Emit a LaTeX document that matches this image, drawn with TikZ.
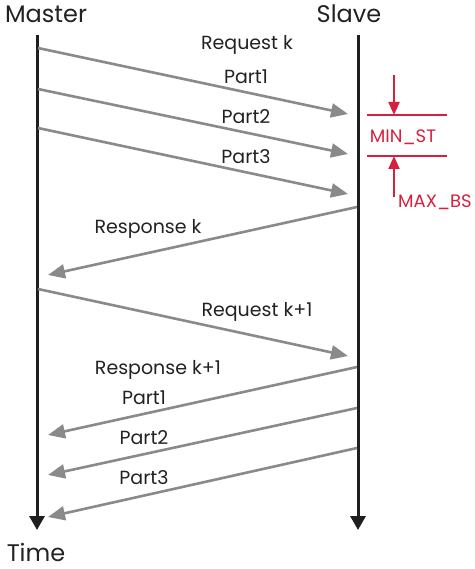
\documentclass[tikz,border=0pt]{standalone}
\usepackage{fontspec}
\setmainfont{Poppins}
\usetikzlibrary{arrows.meta}
\definecolor{msggray}{HTML}{8A8A8A}
\definecolor{markred}{HTML}{D6203F}
\definecolor{txt}{HTML}{222222}
\begin{document}
\begin{tikzpicture}[x=1pt,y=-1pt,
  lifeline/.style={line width=3pt,draw=black!88,-{Triangle[length=14pt,width=15pt]}},
  msg/.style={line width=2.6pt,draw=msggray,-{Triangle[length=17pt,width=14pt]}},
  redline/.style={line width=2.2pt,draw=markred},
  redarrow/.style={redline,-{Triangle[length=13pt,width=11pt]}},
  lbl/.style={text=txt,inner sep=0pt,font=\fontsize{19}{22}\selectfont},
  head/.style={text=txt,inner sep=0pt,font=\fontsize{24}{28}\selectfont},
  redlbl/.style={text=markred,inner sep=0pt,font=\fontsize{18}{21}\selectfont}]
\useasboundingbox (0,0) rectangle (474,569);
% headers
\node[head] (master) at (46,14) {Master};
\node[head] (slave) at (349,14) {Slave};
\node[head] (time) at (36,552) {Time};
% lifelines
\coordinate (mtop) at (37,35);
\coordinate (mbot) at (37,530);
\coordinate (stop) at (358,35);
\coordinate (sbot) at (358,530);
\draw[lifeline] (mtop) -- (mbot);
\draw[lifeline] (stop) -- (sbot);
% request k parts
\coordinate (rq1a) at (38,48);  \coordinate (rq1b) at (348,114);
\coordinate (rq2a) at (38,89);  \coordinate (rq2b) at (348,154);
\coordinate (rq3a) at (38,128); \coordinate (rq3b) at (348,194);
\draw[msg] (rq1a) -- (rq1b);
\draw[msg] (rq2a) -- (rq2b);
\draw[msg] (rq3a) -- (rq3b);
\node[lbl] (lreq) at (247,45) {Request k};
\node[lbl] (lp1) at (246,77) {Part1};
\node[lbl] (lp2) at (246,117) {Part2};
\node[lbl] (lp3) at (246,157) {Part3};
% response k
\coordinate (rsa) at (357,207); \coordinate (rsb) at (48,275);
\draw[msg] (rsa) -- (rsb);
\node[lbl] (lrs) at (148,229) {Response k};
% request k+1
\coordinate (rqna) at (38,289); \coordinate (rqnb) at (348,356);
\draw[msg] (rqna) -- (rqnb);
\node[lbl] (lreqn) at (257,312) {Request k+1};
% response k+1 parts
\coordinate (rn1a) at (357,367); \coordinate (rn1b) at (48,435);
\coordinate (rn2a) at (357,408); \coordinate (rn2b) at (48,475);
\coordinate (rn3a) at (357,448); \coordinate (rn3b) at (48,517);
\draw[msg] (rn1a) -- (rn1b);
\draw[msg] (rn2a) -- (rn2b);
\draw[msg] (rn3a) -- (rn3b);
\node[lbl] (lrsn) at (158,370) {Response k+1};
\node[lbl] (lq1) at (144,398) {Part1};
\node[lbl] (lq2) at (144,438) {Part2};
\node[lbl] (lq3) at (144,478) {Part3};
% red markers
\coordinate (h1a) at (367,115); \coordinate (h1b) at (447,115);
\coordinate (h2a) at (367,156); \coordinate (h2b) at (447,156);
\coordinate (da) at (394,75);  \coordinate (db) at (394,115);
\coordinate (ua) at (394,197); \coordinate (ub) at (394,156);
\draw[redline] (h1a) -- (h1b);
\draw[redline] (h2a) -- (h2b);
\draw[redarrow] (da) -- (db);
\draw[redarrow] (ua) -- (ub);
\node[redlbl] (minst) at (403,137) {MIN\_ST};
\node[redlbl,anchor=west] (maxbs) at (398,202) {MAX\_BS};
\end{tikzpicture}
\end{document}
